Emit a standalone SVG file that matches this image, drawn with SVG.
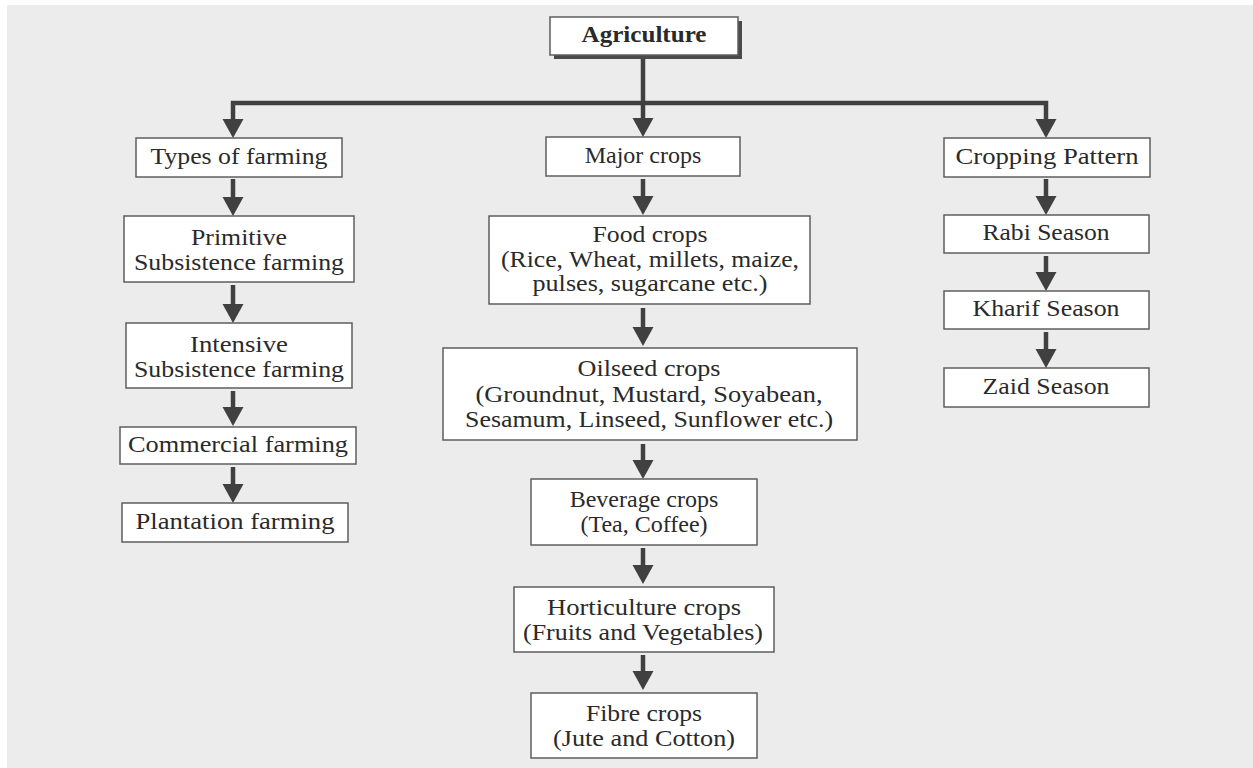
<svg xmlns="http://www.w3.org/2000/svg" xmlns:xlink="http://www.w3.org/1999/xlink" width="1253" height="768" viewBox="0 0 1253 768">
  <style>
    .box { fill: #ffffff; stroke: #5e5e5e; stroke-width: 1.5; }
    .shadow { fill: #4a4a4a; }
    .t { font-family: "Liberation Serif", "Times New Roman", serif; font-size: 24px; fill: #2a2a2a; text-anchor: middle; }
    .tb { font-weight: bold; }
    .wire { fill: none; stroke: #404040; stroke-width: 4.5; stroke-linecap: butt; stroke-linejoin: miter; }
    .head { fill: #404040; }
  </style>
  <defs>
    <!-- downward arrowhead, tip at (0,19) -->
    <path id="ah" d="M-10.5,0 L10.5,0 L0,19 Z"/>
  </defs>

  <rect x="7" y="5" width="1246" height="763" fill="#ececec"/>

  <!-- connectors -->
  <g id="connectors">
    <path class="wire" d="M643,59 V121"/>
    <path class="wire" d="M233,121 V103 H1046 V121"/>
    <!-- left column -->
    <path class="wire" d="M233,179 V199"/>
    <path class="wire" d="M233,285 V306"/>
    <path class="wire" d="M233,391 V409"/>
    <path class="wire" d="M233,467 V486"/>
    <!-- middle column -->
    <path class="wire" d="M643,179 V198"/>
    <path class="wire" d="M643,308 V329"/>
    <path class="wire" d="M643,444 V462"/>
    <path class="wire" d="M643,548 V567"/>
    <path class="wire" d="M643,655 V673"/>
    <!-- right column -->
    <path class="wire" d="M1046,179 V198"/>
    <path class="wire" d="M1046,256 V274"/>
    <path class="wire" d="M1046,332 V351"/>

    <use xlink:href="#ah" class="head" x="233" y="119"/>
    <use xlink:href="#ah" class="head" x="643" y="118"/>
    <use xlink:href="#ah" class="head" x="1046" y="119"/>
    <use xlink:href="#ah" class="head" x="233" y="197"/>
    <use xlink:href="#ah" class="head" x="233" y="304"/>
    <use xlink:href="#ah" class="head" x="233" y="407"/>
    <use xlink:href="#ah" class="head" x="233" y="484"/>
    <use xlink:href="#ah" class="head" x="643" y="196"/>
    <use xlink:href="#ah" class="head" x="643" y="327"/>
    <use xlink:href="#ah" class="head" x="643" y="460"/>
    <use xlink:href="#ah" class="head" x="643" y="565"/>
    <use xlink:href="#ah" class="head" x="643" y="671"/>
    <use xlink:href="#ah" class="head" x="1046" y="196"/>
    <use xlink:href="#ah" class="head" x="1046" y="272"/>
    <use xlink:href="#ah" class="head" x="1046" y="349"/>
  </g>

  <!-- root -->
  <g id="agriculture">
    <rect class="shadow" x="554" y="21" width="188" height="38"/>
    <rect class="box" x="550" y="17" width="188" height="38"/>
    <text class="t tb" x="644" y="42" textLength="125" lengthAdjust="spacingAndGlyphs">Agriculture</text>
  </g>

  <!-- left column: types of farming -->
  <g id="types-of-farming">
    <rect class="box" x="136" y="138" width="206" height="39"/>
    <text class="t" x="239" y="164" textLength="177" lengthAdjust="spacingAndGlyphs">Types of farming</text>
  </g>
  <g id="primitive-subsistence">
    <rect class="box" x="124" y="216" width="230" height="66"/>
    <text class="t" x="239" y="245" textLength="96" lengthAdjust="spacingAndGlyphs">Primitive</text>
    <text class="t" x="239" y="270" textLength="210" lengthAdjust="spacingAndGlyphs">Subsistence farming</text>
  </g>
  <g id="intensive-subsistence">
    <rect class="box" x="126" y="323" width="226" height="65"/>
    <text class="t" x="239" y="352" textLength="98" lengthAdjust="spacingAndGlyphs">Intensive</text>
    <text class="t" x="239" y="377" textLength="210" lengthAdjust="spacingAndGlyphs">Subsistence farming</text>
  </g>
  <g id="commercial-farming">
    <rect class="box" x="120" y="427" width="236" height="37"/>
    <text class="t" x="238" y="452" textLength="220" lengthAdjust="spacingAndGlyphs">Commercial farming</text>
  </g>
  <g id="plantation-farming">
    <rect class="box" x="122" y="503" width="226" height="39"/>
    <text class="t" x="235" y="529" textLength="199" lengthAdjust="spacingAndGlyphs">Plantation farming</text>
  </g>

  <!-- middle column: major crops -->
  <g id="major-crops">
    <rect class="box" x="546" y="137" width="194" height="39"/>
    <text class="t" x="643" y="163">Major crops</text>
  </g>
  <g id="food-crops">
    <rect class="box" x="489" y="216" width="321" height="88"/>
    <text class="t" x="650" y="242" textLength="115" lengthAdjust="spacingAndGlyphs">Food crops</text>
    <text class="t" x="650" y="267" textLength="298" lengthAdjust="spacingAndGlyphs">(Rice, Wheat, millets, maize,</text>
    <text class="t" x="650" y="291" textLength="235" lengthAdjust="spacingAndGlyphs">pulses, sugarcane etc.)</text>
  </g>
  <g id="oilseed-crops">
    <rect class="box" x="443" y="348" width="414" height="92"/>
    <text class="t" x="649" y="376" textLength="143" lengthAdjust="spacingAndGlyphs">Oilseed crops</text>
    <text class="t" x="649" y="402" textLength="347" lengthAdjust="spacingAndGlyphs">(Groundnut, Mustard, Soyabean,</text>
    <text class="t" x="649" y="427" textLength="368" lengthAdjust="spacingAndGlyphs">Sesamum, Linseed, Sunflower etc.)</text>
  </g>
  <g id="beverage-crops">
    <rect class="box" x="531" y="479" width="226" height="66"/>
    <text class="t" x="644" y="507">Beverage crops</text>
    <text class="t" x="644" y="532">(Tea, Coffee)</text>
  </g>
  <g id="horticulture-crops">
    <rect class="box" x="514" y="587" width="260" height="65"/>
    <text class="t" x="644" y="615" textLength="194" lengthAdjust="spacingAndGlyphs">Horticulture crops</text>
    <text class="t" x="643" y="640" textLength="240" lengthAdjust="spacingAndGlyphs">(Fruits and Vegetables)</text>
  </g>
  <g id="fibre-crops">
    <rect class="box" x="531" y="693" width="226" height="65"/>
    <text class="t" x="644" y="721" textLength="116" lengthAdjust="spacingAndGlyphs">Fibre crops</text>
    <text class="t" x="644" y="746" textLength="182" lengthAdjust="spacingAndGlyphs">(Jute and Cotton)</text>
  </g>

  <!-- right column: cropping pattern -->
  <g id="cropping-pattern">
    <rect class="box" x="944" y="138" width="206" height="39"/>
    <text class="t" x="1047" y="164" textLength="183" lengthAdjust="spacingAndGlyphs">Cropping Pattern</text>
  </g>
  <g id="rabi-season">
    <rect class="box" x="944" y="215" width="205" height="38"/>
    <text class="t" x="1046" y="240" textLength="127" lengthAdjust="spacingAndGlyphs">Rabi Season</text>
  </g>
  <g id="kharif-season">
    <rect class="box" x="944" y="291" width="205" height="38"/>
    <text class="t" x="1046" y="316" textLength="147" lengthAdjust="spacingAndGlyphs">Kharif Season</text>
  </g>
  <g id="zaid-season">
    <rect class="box" x="944" y="368" width="205" height="39"/>
    <text class="t" x="1046" y="394" textLength="127" lengthAdjust="spacingAndGlyphs">Zaid Season</text>
  </g>
</svg>
